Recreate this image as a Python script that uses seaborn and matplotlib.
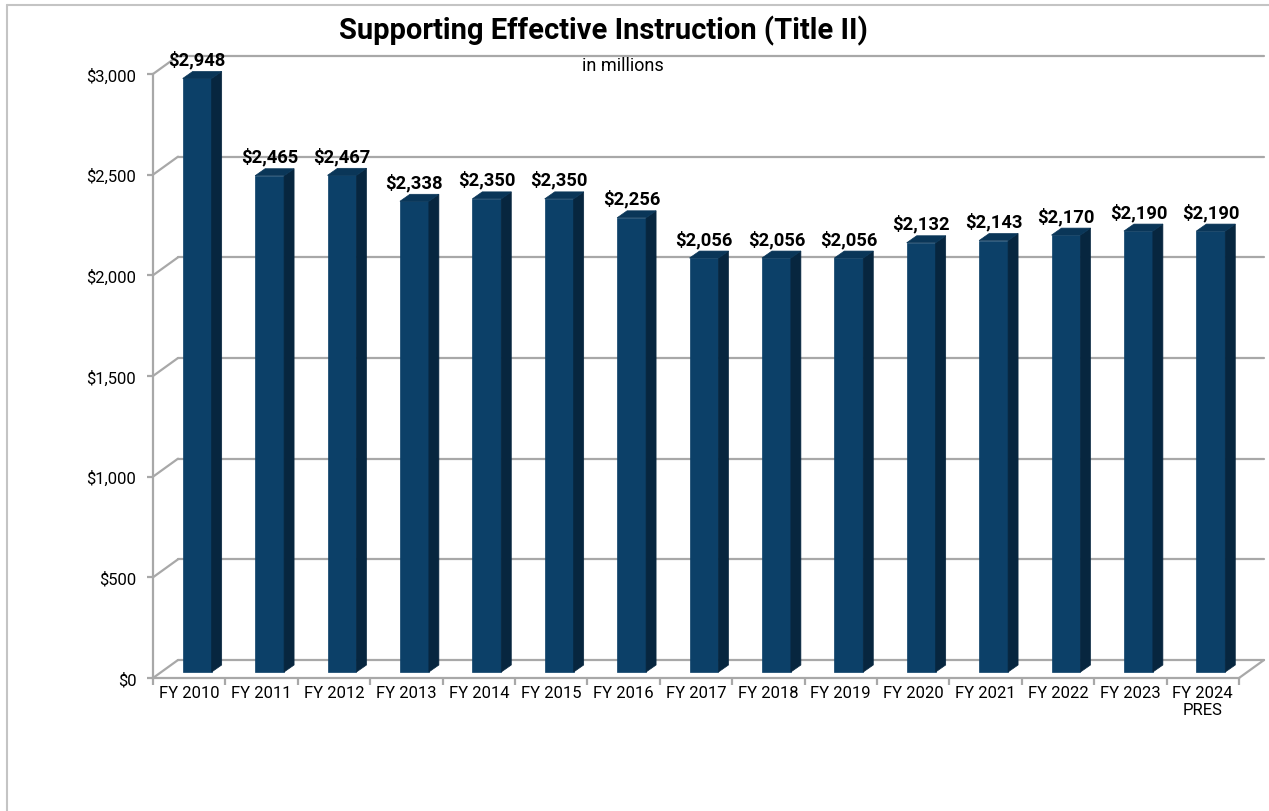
import numpy as np
import pandas as pd
import matplotlib
matplotlib.use("Agg")
import matplotlib.pyplot as plt
from matplotlib.patches import Polygon
from matplotlib.lines import Line2D
import seaborn as sns

# ---- data ----
categories = ["FY 2010", "FY 2011", "FY 2012", "FY 2013", "FY 2014", "FY 2015",
              "FY 2016", "FY 2017", "FY 2018", "FY 2019", "FY 2020", "FY 2021",
              "FY 2022", "FY 2023", "FY 2024\nPRES"]
values = [2948, 2465, 2467, 2338, 2350, 2350, 2256, 2056, 2056, 2056,
          2132, 2143, 2170, 2190, 2190]
y_ticks = [0, 500, 1000, 1500, 2000, 2500, 3000]
y_tick_labels = ["$0", "$500", "$1,000", "$1,500", "$2,000", "$2,500", "$3,000"]
title = "Supporting Effective Instruction (Title II)"
subtitle = "in millions"

sns.set_theme(style="white")
plt.rcParams["font.family"] = ["Roboto", "DejaVu Sans"]

W, H = 1269, 812
fig = plt.figure(figsize=(W / 100, H / 100), dpi=100)
fig.patch.set_facecolor("white")

# front plane of the 3D box (pixels)
L, R, Y0, Y3 = 153, 1239, 679, 75
ax = fig.add_axes([L / W, (H - Y0) / H, (R - L) / W, (Y0 - Y3) / H])
ax.set_xlim(-0.5, len(categories) - 0.5)
ax.set_ylim(0, 3000)
ax.patch.set_alpha(0)

sx = len(categories) / (R - L)      # data units per pixel (x)
sy = 3000 / (Y0 - Y3)               # data units per pixel (y)

grid_c = "#a8a8a8"
lw_grid = 1.6

# back wall gridlines + left wall diagonals
BDX, BDY = 25, 18
for v in y_ticks:
    ax.add_line(Line2D([-0.5 + BDX * sx, len(categories) - 0.5 + BDX * sx],
                       [v + BDY * sy, v + BDY * sy], color=grid_c, lw=lw_grid,
                       clip_on=False, zorder=1))
    ax.add_line(Line2D([-0.5, -0.5 + BDX * sx], [v, v + BDY * sy], color=grid_c,
                       lw=lw_grid, clip_on=False, zorder=1))
# floor right diagonal
ax.add_line(Line2D([len(categories) - 0.5, len(categories) - 0.5 + BDX * sx],
                   [0, BDY * sy], color=grid_c, lw=lw_grid, clip_on=False, zorder=1))

# bars (front faces) via seaborn
df = pd.DataFrame({"cat": categories, "val": values})
front_c = "#0c4068"
side_c = "#07263f"
top_c = "#0a3658"
sns.barplot(data=df, x="cat", y="val", color=front_c, saturation=1, width=0.4,
            ax=ax, zorder=3)

PDX, PDY = 8, 6     # bar front-plane offset
DDX, DDY = 10, 7    # bar depth
for p in ax.patches:
    x = p.get_x() + PDX * sx
    w = p.get_width()
    h = p.get_height()
    b = PDY * sy
    p.set_x(x)
    p.set_y(b)
    p.set_edgecolor(front_c)
    p.set_linewidth(0.5)
    p.set_clip_on(False)
    dx, dy = DDX * sx, DDY * sy
    side = Polygon([(x + w, b), (x + w + dx, b + dy), (x + w + dx, b + h + dy),
                    (x + w, b + h)], closed=True, facecolor=side_c, edgecolor=side_c,
                   lw=0.5, clip_on=False, zorder=3)
    top = Polygon([(x, b + h), (x + dx, b + h + dy), (x + w + dx, b + h + dy),
                   (x + w, b + h)], closed=True, facecolor=top_c, edgecolor=top_c,
                  lw=0.5, clip_on=False, zorder=3)
    ax.add_patch(side)
    ax.add_patch(top)

# data labels
for i, v in enumerate(values):
    ax.text(i + PDX * sx, v + (PDY + DDY + 3) * sy, f"${v:,}", ha="center",
            va="bottom", fontsize=13.2, fontweight="bold", color="black", zorder=5,
            clip_on=False)

# axes styling
for s in ["top", "right"]:
    ax.spines[s].set_visible(False)
for s in ["left", "bottom"]:
    ax.spines[s].set_color(grid_c)
    ax.spines[s].set_linewidth(lw_grid)
ax.set_yticks(y_ticks)
ax.set_yticklabels(y_tick_labels)
ax.set_xticks(range(len(categories)))
ax.set_xticklabels(categories)
ax.set_xticks(np.arange(-0.5, len(categories), 1.0), minor=True)
ax.tick_params(axis="y", which="major", left=True, length=4, width=lw_grid,
               color=grid_c, pad=8, labelsize=12, labelcolor="black")
ax.tick_params(axis="x", which="major", bottom=True, length=0, pad=5,
               labelsize=12, labelcolor="black")
ax.tick_params(axis="x", which="minor", bottom=True, length=5, width=lw_grid,
               color=grid_c)
ax.set_xlabel("")
ax.set_ylabel("")
ax.grid(False)

# titles
fig.text(603 / W, 1 - 31 / H, title, ha="center", va="center", fontsize=21,
         fontweight="bold", color="black")
fig.text(623 / W, 1 - 66 / H, subtitle, ha="center", va="center", fontsize=13,
         color="black")

# outer border (partially visible)
fig.add_artist(Line2D([7 / W, 1.0], [1 - 6 / H, 1 - 6 / H], transform=fig.transFigure,
                      color="#c4c4c4", lw=1.5))
fig.add_artist(Line2D([7 / W, 7 / W], [0, 1 - 6 / H], transform=fig.transFigure,
                      color="#c4c4c4", lw=1.5))

fig.savefig("out.png", dpi=100, facecolor="white")
